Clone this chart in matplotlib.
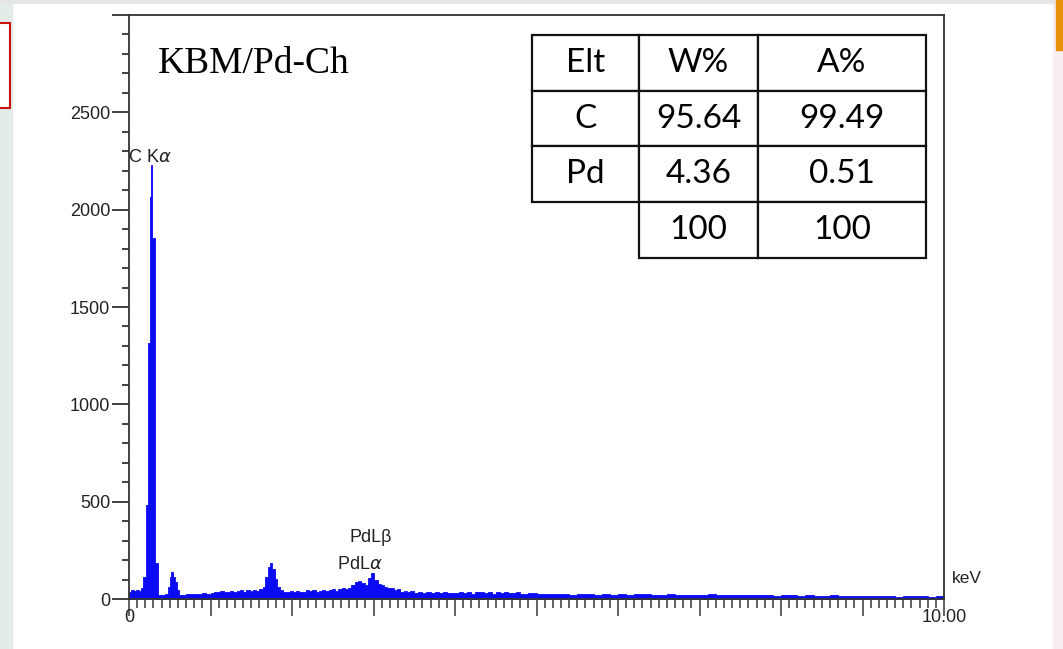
import matplotlib
matplotlib.use("Agg")
import matplotlib.pyplot as plt
from matplotlib.patches import Rectangle
from matplotlib.ticker import FixedLocator, MultipleLocator, FixedFormatter

# EDS spectrum (energy in keV, counts), drawn as steps
energy_kev = [
    0.00, 0.03, 0.06, 0.09, 0.12, 0.15, 0.17, 0.21, 0.235, 0.26, 0.272, 0.285,
    0.32, 0.355, 0.40, 0.44, 0.48, 0.50, 0.515, 0.535, 0.56, 0.585, 0.615,
    0.65, 0.70, 0.75, 0.80, 0.85, 0.90, 0.95, 1.00, 1.04, 1.08, 1.12, 1.16,
    1.20, 1.24, 1.28, 1.32, 1.36, 1.40, 1.44, 1.48, 1.52, 1.56, 1.60, 1.64,
    1.67, 1.70, 1.73, 1.76, 1.79, 1.82, 1.85, 1.89, 1.93, 1.97, 2.01, 2.05,
    2.09, 2.13, 2.17, 2.21, 2.25, 2.29, 2.33, 2.37, 2.41, 2.45, 2.49, 2.53,
    2.57, 2.61, 2.65, 2.69, 2.73, 2.77, 2.81, 2.85, 2.89, 2.93, 2.97, 3.01,
    3.05, 3.09, 3.13, 3.17, 3.21, 3.25, 3.29, 3.33, 3.37, 3.41, 3.45, 3.50,
    3.55, 3.60, 3.65, 3.70, 3.75, 3.80, 3.85, 3.90, 3.95, 4.00, 4.05, 4.10,
    4.15, 4.20, 4.25, 4.30, 4.35, 4.40, 4.45, 4.50, 4.55, 4.60, 4.65, 4.70,
    4.75, 4.80, 4.85, 4.90, 5.0, 5.1, 5.2, 5.3, 5.4, 5.5, 5.6, 5.7, 5.8, 5.9,
    6.0, 6.1, 6.2, 6.3, 6.4, 6.5, 6.6, 6.7, 6.8, 6.9, 7.0, 7.1, 7.2, 7.3, 7.4,
    7.5, 7.6, 7.7, 7.8, 7.9, 8.0, 8.1, 8.2, 8.3, 8.4, 8.5, 8.6, 8.7, 8.8, 8.9,
    9.0, 9.1, 9.2, 9.3, 9.4, 9.5, 9.6, 9.7, 9.8, 9.9, 10.0,
]
counts = [
    35, 48, 40, 46, 42, 58, 115, 483, 1314, 2063, 2228, 1853,
    185, 22, 18, 24, 63, 115, 140, 115, 89, 46, 22,
    18, 28, 25, 27, 26, 30, 27, 29, 38, 36, 40, 35,
    38, 42, 37, 39, 46, 38, 44, 40, 48, 42, 50, 62,
    115, 165, 186, 155, 103, 63, 46, 38, 34, 40, 36, 42,
    38, 35, 44, 40, 46, 38, 43, 48, 40, 45, 50, 42,
    52, 56, 50, 58, 70, 85, 94, 80, 72, 110, 132, 100,
    78, 72, 60, 55, 58, 46, 50, 38, 42, 35, 40, 33,
    37, 31, 35, 30, 34, 32, 36, 30, 33, 29, 36, 30,
    38, 28, 34, 38, 30, 36, 28, 35, 30, 37, 29, 32,
    38, 28, 26, 30, 25, 27, 24, 26, 23, 25, 27, 23, 25, 22,
    26, 23, 25, 28, 23, 22, 24, 21, 23, 20, 22, 24, 21, 19, 22,
    20, 18, 21, 19, 17, 20, 18, 16, 19, 17, 15, 18, 16, 14, 17,
    15, 13, 16, 14, 12, 15, 13, 16, 12, 14, 14,
]

y_ticks = [0, 500, 1000, 1500, 2000, 2500, 3000]
y_labels = ["0", "500", "1000", "1500", "2000", "2500", ""]
x_ticks = list(range(0, 11))
x_labels = ["0"] + [""] * 9 + ["10.00"]

table_rows = [
    ["Elt", "W%", "A%"],
    ["C", "95.64", "99.49"],
    ["Pd", "4.36", "0.51"],
    ["", "100", "100"],
]

fig = plt.figure(figsize=(10.63, 6.49), dpi=100)

# screenshot surroundings
fig.patches.append(Rectangle((0, 0), 12 / 1063, 1, transform=fig.transFigure,
                             color="#e4ecea", zorder=0))
fig.patches.append(Rectangle((-0.01, 1 - 108 / 649), 10 / 1063 + 0.01, 85 / 649,
                             transform=fig.transFigure, facecolor="white",
                             edgecolor="#cc1111", lw=1.5, zorder=1))
fig.patches.append(Rectangle((1053 / 1063, 0), 10 / 1063, 1, transform=fig.transFigure,
                             color="#f6eef0", zorder=0))
fig.patches.append(Rectangle((1056 / 1063, 1 - 50 / 649), 7 / 1063, 50 / 649,
                             transform=fig.transFigure, color="#e8900a", zorder=1))
fig.patches.append(Rectangle((0, 1 - 3 / 649), 1, 3 / 649, transform=fig.transFigure,
                             color="#e6e6e6", zorder=0))

ax = fig.add_axes([129 / 1063, 50 / 649, 815 / 1063, 584 / 649])

blue = "#0a0af5"
ax.fill_between(energy_kev, counts, step="post", facecolor=blue,
                edgecolor=blue, lw=0.6)

ax.set_xlim(0, 10)
ax.set_ylim(0, 3000)

for side in ["left", "bottom", "top", "right"]:
    ax.spines[side].set_color("#333333")
    ax.spines[side].set_linewidth(1.3)

ax.yaxis.set_major_locator(FixedLocator(y_ticks))
ax.yaxis.set_major_formatter(FixedFormatter(y_labels))
ax.yaxis.set_minor_locator(MultipleLocator(100))
ax.xaxis.set_major_locator(FixedLocator(x_ticks))
ax.xaxis.set_major_formatter(FixedFormatter(x_labels))
ax.xaxis.set_minor_locator(MultipleLocator(0.1))

ax.tick_params(axis="y", which="major", direction="out", length=12.5, width=1.3,
               color="#333333", pad=1, labelsize=13)
ax.tick_params(axis="y", which="minor", direction="out", length=5, width=1.3,
               color="#333333")
ax.tick_params(axis="x", which="major", direction="out", length=12, width=1.3,
               color="#555555", pad=-5, labelsize=13)
ax.tick_params(axis="x", which="minor", direction="out", length=6.5, width=1.3,
               color="#555555")
for lab in ax.get_xticklabels() + ax.get_yticklabels():
    lab.set_fontfamily("Liberation Sans")
    lab.set_color("#222222")

# peak labels
ax.text(-0.01, 2270, "C K$\\alpha$", fontsize=13, family="Liberation Sans",
        color="#222222", va="center", ha="left")
ax.text(2.70, 317, "PdL\u03b2", fontsize=13, family="Liberation Sans",
        color="#222222", va="center", ha="left")
ax.text(2.55, 178, "PdL$\\alpha$", fontsize=13, family="Liberation Sans",
        color="#222222", va="center", ha="left")
ax.text(1.01, 0.035, "keV", transform=ax.transAxes, fontsize=12.5,
        family="Liberation Sans", color="#222222", ha="left", va="center")

ax.text(0.0356, 0.9007, "KBM/Pd-Ch", transform=ax.transAxes, fontsize=27,
        family="Liberation Serif", va="baseline", ha="left")

# composition table
tbl = ax.table(cellText=table_rows, cellLoc="center",
               colWidths=[0.2716, 0.302, 0.4264],
               bbox=[0.4945, 0.584, 0.4835, 0.3818])
tbl.auto_set_font_size(False)
for (r, c), cell in tbl.get_celld().items():
    cell.set_linewidth(1.6)
    cell.set_edgecolor("#111111")
    txt = cell.get_text()
    txt.set_fontsize(24)
    txt.set_fontfamily("Lato")
    if r == 3 and c == 0:
        cell.visible_edges = ""

fig.savefig("out.png", dpi=100)
